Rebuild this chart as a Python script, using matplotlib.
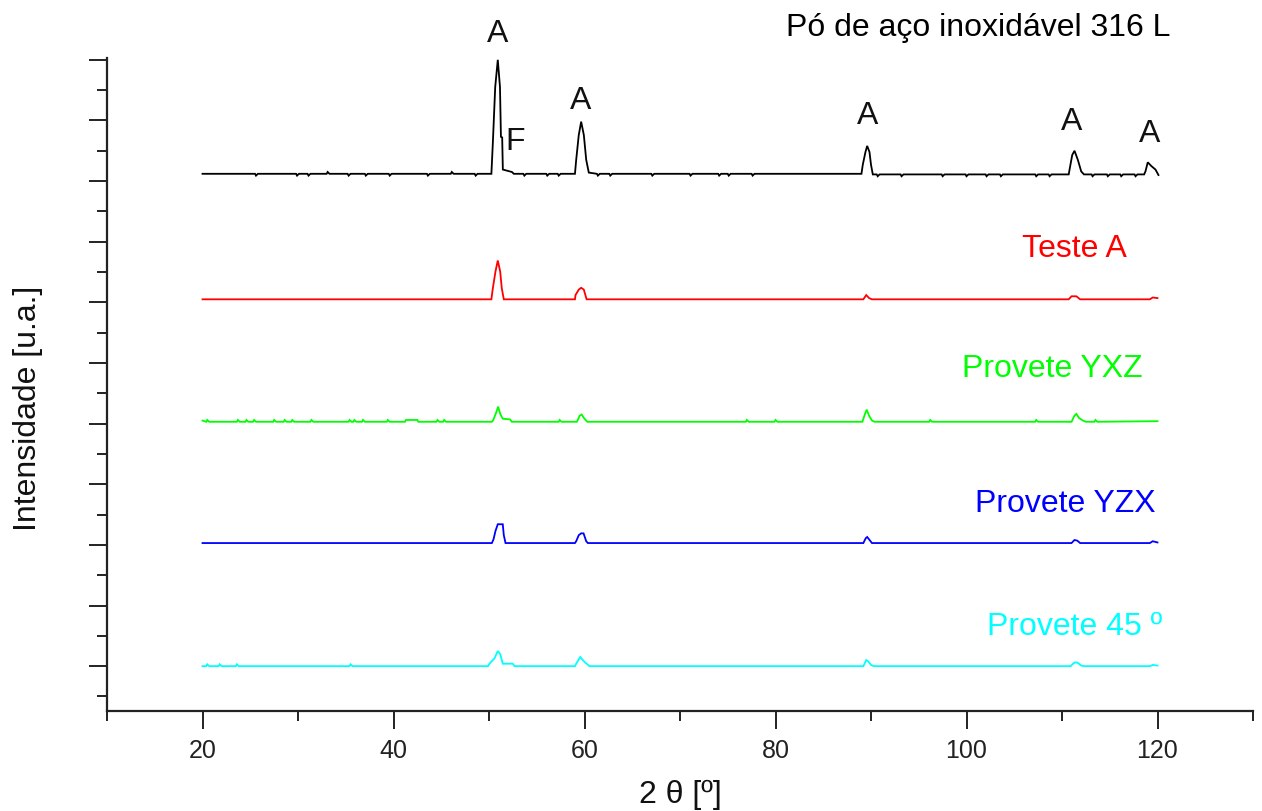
import matplotlib
matplotlib.use("Agg")
import matplotlib.pyplot as plt
from matplotlib.ticker import MultipleLocator

# ---------------- data (2θ in degrees, relative intensity above each baseline) ----------------
po_x = [20, 25.5, 25.6, 25.8, 29.8, 29.9, 30.1, 31.0, 31.1, 31.3, 33.0, 33.1, 33.3, 35.2, 35.3, 35.5,
        37.0, 37.1, 37.3, 39.5, 39.6, 39.8, 43.5, 43.6, 43.8, 46.0, 46.1, 46.3, 48.5, 48.6, 48.8,
        50.25, 50.4, 50.65, 50.92, 51.15, 51.25, 51.38, 51.45, 52.4, 52.6, 53.6, 53.7, 53.9,
        56.0, 56.1, 56.3, 57.2, 57.3, 57.5, 59.0, 59.13, 59.40, 59.65, 59.93, 60.18, 60.45,
        61.3, 61.4, 61.6, 62.6, 62.7, 62.9, 67.0, 67.1, 67.3, 71.0, 71.1, 71.3, 74.0, 74.1, 74.3,
        75.0, 75.1, 75.3, 77.5, 77.6, 77.8, 89.0, 89.14, 89.42, 89.60, 89.84, 90.0, 90.19,
        90.6, 90.7, 90.9, 93.1, 93.2, 93.4, 97.4, 97.5, 97.7, 99.9, 100.0, 100.2, 102.0, 102.1, 102.3,
        103.5, 103.6, 103.8, 107.2, 107.3, 107.5, 108.6, 108.7, 108.9, 110.7, 110.79, 111.07, 111.31,
        111.66, 112.01, 112.3, 113.1, 113.2, 113.4, 114.7, 114.8, 115.0, 116.1, 116.2, 116.4,
        117.6, 117.7, 117.9, 118.6, 118.74, 118.98, 119.34, 119.79, 120.1]
po_y = [0, 0, -0.03, 0, 0, -0.03, 0, 0, -0.03, 0, 0, 0.03, 0, 0, -0.03, 0,
        0, -0.03, 0, 0, -0.03, 0, 0, -0.03, 0, 0, 0.03, 0, 0, -0.03, 0,
        0, 0.5, 1.43, 1.88, 1.43, 0.61, 0.6, 0.07, 0.03, 0, 0, -0.03, 0,
        0, -0.03, 0, 0, -0.03, 0, 0, 0.23, 0.64, 0.86, 0.64, 0.23, 0.02,
        0, -0.03, 0, 0, -0.03, 0, 0, -0.03, 0, 0, -0.03, 0, 0, -0.03, 0,
        0, -0.03, 0, 0, -0.03, 0, 0, 0.15, 0.36, 0.46, 0.36, 0.15, -0.01,
        -0.01, -0.04, -0.01, -0.01, -0.04, -0.01, -0.01, -0.04, -0.01, -0.01, -0.04, -0.01, -0.01, -0.04, -0.01,
        -0.01, -0.04, -0.01, -0.01, -0.04, -0.01, -0.01, -0.04, -0.01, -0.01, 0.07, 0.31, 0.38,
        0.23, 0.04, -0.01, -0.01, -0.04, -0.01, -0.01, -0.04, -0.01, -0.01, -0.04, -0.01,
        -0.01, -0.04, -0.01, -0.01, 0.04, 0.19, 0.13, 0.07, -0.02]

testeA_x = [20, 50.25, 50.40, 50.68, 50.92, 51.17, 51.34, 51.55, 59.0, 59.06, 59.40, 59.65, 59.93,
            60.22, 89.2, 89.5, 89.8, 90.1, 110.7, 111.0, 111.5, 111.9, 119.2, 119.5, 120.0]
testeA_y = [0, 0, 0.18, 0.46, 0.64, 0.46, 0.18, 0, 0, 0.07, 0.16, 0.19, 0.16,
            0, 0, 0.07, 0.02, 0, 0, 0.05, 0.05, 0, 0, 0.03, 0.02]

yxz_x = [20, 20.4, 20.5, 20.7, 23.6, 23.7, 23.9, 24.5, 24.6, 24.8, 25.3, 25.4, 25.6, 27.4, 27.5, 27.7,
         28.5, 28.6, 28.8, 29.3, 29.4, 29.6, 31.3, 31.4, 31.6, 35.3, 35.4, 35.6, 35.8, 35.9, 36.1,
         36.7, 36.8, 37.0, 39.3, 39.4, 39.6, 41.2, 41.3, 42.5, 42.6, 44.5, 44.6, 44.8, 45.2, 45.3, 45.5,
         50.3, 50.45, 50.75, 50.95, 51.2, 51.45, 52.2, 52.4, 57.3, 57.4, 57.6,
         59.2, 59.5, 59.7, 60.0, 60.3, 76.9, 77.0, 77.2, 79.9, 80.0, 80.2,
         89.1, 89.35, 89.55, 89.8, 90.1, 90.4, 96.1, 96.2, 96.4, 107.2, 107.3, 107.5,
         111.0, 111.3, 111.5, 111.8, 112.2, 112.5, 113.4, 113.5, 113.7, 120.0]
yxz_y = [0.02, 0, 0.03, 0, 0, 0.03, 0, 0, 0.03, 0, 0, 0.03, 0, 0, 0.03, 0,
         0, 0.03, 0, 0, 0.03, 0, 0, 0.03, 0, 0, 0.03, 0, 0, 0.03, 0,
         0, 0.03, 0, 0, 0.03, 0, 0, 0.03, 0.03, 0, 0, 0.03, 0, 0, 0.03, 0,
         0, 0.03, 0.15, 0.25, 0.12, 0.05, 0.04, 0, 0, 0.03, 0,
         0, 0.1, 0.12, 0.05, 0, 0, 0.03, 0, 0, 0.03, 0,
         0, 0.12, 0.2, 0.1, 0.02, 0, 0, 0.03, 0, 0, 0.03, 0,
         0, 0.1, 0.13, 0.06, 0.02, 0, 0, 0.03, 0, 0.01]

yzx_x = [20, 50.3, 50.47, 50.68, 50.92, 51.44, 51.55, 51.73, 59.0, 59.13, 59.40, 59.65, 59.90,
         60.18, 60.35, 89.2, 89.45, 89.6, 89.85, 90.1, 111.0, 111.3, 111.6, 111.9, 119.2, 119.5, 120.0]
yzx_y = [0, 0, 0.06, 0.2, 0.31, 0.31, 0.13, 0, 0, 0.03, 0.13, 0.16, 0.16,
         0.03, 0, 0, 0.08, 0.1, 0.05, 0, 0, 0.05, 0.04, 0, 0, 0.03, 0.01]

p45_x = [20, 20.4, 20.5, 20.7, 21.7, 21.8, 22.0, 23.5, 23.6, 23.8, 35.4, 35.5, 35.7,
         49.9, 50.05, 50.58, 50.92, 51.17, 51.44, 52.49, 52.67, 59.0, 59.13, 59.55, 60.0, 60.52,
         89.2, 89.5, 89.7, 90.0, 90.3, 110.9, 111.3, 111.6, 112.0, 112.3, 119.2, 119.5, 120.0]
p45_y = [0, 0, 0.03, 0, 0, 0.03, 0, 0, 0.03, 0, 0, 0.03, 0,
         0, 0.04, 0.13, 0.25, 0.2, 0.04, 0.04, 0, 0, 0.04, 0.15, 0.07, 0,
         0, 0.1, 0.08, 0.02, 0, 0, 0.06, 0.06, 0.01, 0, 0, 0.02, 0.01]

series_names = ["Pó de aço inoxidável 316 L", "Teste A", "Provete YXZ", "Provete YZX", "Provete 45 º"]
peak_labels = ["A", "F", "A", "A", "A", "A"]
peak_label_x = [50.9, 52.7, 59.6, 89.6, 111.0, 119.2]

# ---------------- layout / style ----------------
offsets = [8.12, 6.05, 4.03, 2.03, 0.0]
colors = ["#000000", "#ff0000", "#00ff00", "#0000ff", "#00ffff"]
label_pos = [(101.2, 10.53), (111.3, 6.88), (109.0, 4.90), (110.3, 2.67), (111.3, 0.64)]
peak_label_y = [10.43, 8.65, 9.32, 9.08, 8.98, 8.78]

plt.rcParams['font.family'] = ['Liberation Sans', 'DejaVu Sans']

fig = plt.figure(figsize=(12.62, 8.11), dpi=100)
ax = fig.add_axes([107 / 1262, 1 - 711 / 811, (1253 - 107) / 1262, (711 - 58) / 811])

xs = [po_x, testeA_x, yxz_x, yzx_x, p45_x]
ys = [po_y, testeA_y, yxz_y, yzx_y, p45_y]
for x, y, off, c in zip(xs, ys, offsets, colors):
    ax.plot(x, [v + off for v in y], color=c, lw=1.3, solid_joinstyle='miter')

for name, (tx, ty), c in zip(series_names, label_pos, colors):
    ax.text(tx, ty, name, color=c, fontsize=23, ha='center', va='center', clip_on=False)

for lab, lx, ly in zip(peak_labels, peak_label_x, peak_label_y):
    ax.text(lx, ly, lab, color='#111111', fontsize=23, ha='center', va='center', clip_on=False)

ax.set_xlim(10, 130)
ax.set_ylim(-0.74, 10.03)
ax.xaxis.set_major_locator(MultipleLocator(20))
ax.xaxis.set_minor_locator(MultipleLocator(10))
ax.yaxis.set_major_locator(MultipleLocator(1))
ax.yaxis.set_minor_locator(MultipleLocator(0.5))
ax.set_xticks([20, 40, 60, 80, 100, 120])
ax.tick_params(axis='y', which='both', labelleft=False)
ax.tick_params(which='major', length=13, width=1.4, color='#222222', labelsize=18, pad=7,
               labelcolor='#222222')
ax.tick_params(which='minor', length=7, width=1.4, color='#222222')
for s in ['top', 'right']:
    ax.spines[s].set_visible(False)
for s in ['left', 'bottom']:
    ax.spines[s].set_linewidth(1.6)
    ax.spines[s].set_color('#222222')

ax.set_xlabel("2 θ [º]", fontsize=23, va='center', color='#111111')
ax.xaxis.set_label_coords(0.5, -0.1286)
ax.set_ylabel("Intensidade [u.a.]", fontsize=23, va='center', ha='center', color='#111111')
ax.yaxis.set_label_coords(-0.0689, 0.464)

fig.savefig("out.png", dpi=100)
